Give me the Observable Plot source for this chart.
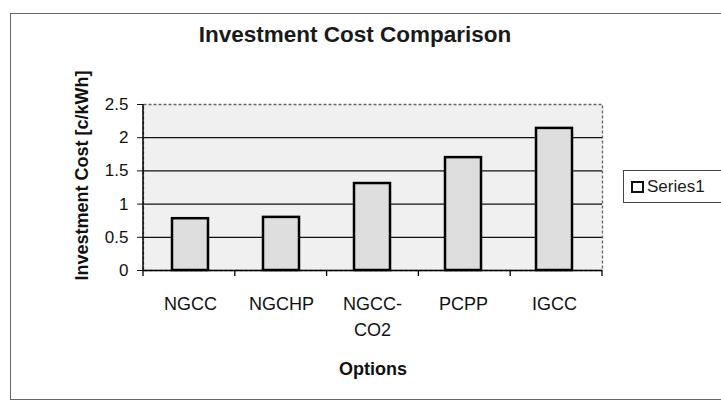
<!DOCTYPE html>
<html><head><meta charset="utf-8">
<script src="https://cdn.jsdelivr.net/npm/d3@7"></script>
<script src="https://cdn.jsdelivr.net/npm/@observablehq/plot@0.6"></script>
<style>
body{margin:0;background:#fff;font-family:"Liberation Sans",Arial,sans-serif;}
#wrap{position:relative;width:721px;height:402px;overflow:hidden;}
#chart{position:absolute;left:0;top:0;}
#border{position:absolute;left:10px;top:13px;width:800px;height:387px;border:1.5px solid #666;box-sizing:border-box;pointer-events:none;}
#title{position:absolute;left:0;top:24px;width:710px;text-align:center;font-size:22.5px;font-weight:bold;line-height:22px;color:#1a1a1a;}
#legend{position:absolute;left:623px;top:170px;width:200px;height:33px;border:1.5px solid #444;box-sizing:border-box;background:#fff;}
#legend .sw{position:absolute;left:7px;top:10px;width:13px;height:12px;border:2px solid #111;box-sizing:border-box;background:#fff;}
#legend .lt{position:absolute;left:23px;top:7px;font-size:17px;line-height:17px;color:#1a1a1a;}
</style>
</head><body>
<div id="wrap">
  <div id="chart"></div>
  <div id="border"></div>
  <div id="title"></div>
  <div id="legend"><div class="sw"></div><div class="lt"></div></div>
</div>
<script>
const title = "Investment Cost Comparison";
const categories = ["NGCC", "NGCHP", "NGCC-\nCO2", "PCPP", "IGCC"];
const values = [0.78, 0.80, 1.31, 1.70, 2.14];
const yTicks = [0, 0.5, 1, 1.5, 2, 2.5];
const yLabel = "Investment Cost [c/kWh]";
const xLabel = "Options";
const seriesName = "Series1";

const data = categories.map((c, i) => ({cat: c, val: values[i]}));

document.getElementById("title").textContent = title;
document.querySelector("#legend .lt").textContent = seriesName;

const plot = Plot.plot({
  width: 721, height: 402,
  marginLeft: 143, marginRight: 119, marginTop: 104, marginBottom: 132,
  x: {domain: categories, paddingInner: 0.6, paddingOuter: 0.3},
  y: {domain: [0, 2.5]},
  style: {fontFamily: "'Liberation Sans', Arial, sans-serif", background: "transparent", color: "#111"},
  marks: [
    Plot.frame({fill: "#f0f0f0", stroke: "none"}),
    Plot.ruleY(yTicks.filter(v => v > 0 && v < 2.5), {stroke: "#111", strokeWidth: 1.3}),
    Plot.frame({stroke: "#666", strokeDasharray: "3,2", strokeWidth: 1.3}),
    Plot.barY(data, {x: "cat", y: "val", fill: "#dedede", stroke: "#000", strokeWidth: 2.5}),
    Plot.ruleY([0], {stroke: "#000", strokeWidth: 1.5}),
    Plot.axisY({ticks: yTicks, tickSize: 6, tickPadding: 9, fontSize: 17, label: null, tickFormat: d => String(d)}),
    Plot.axisX({tickSize: 0, tickPadding: 22, fontSize: 18, lineHeight: 1.4, label: null}),
    Plot.text([yLabel], {text: d => d, frameAnchor: "left", textAnchor: "middle", lineAnchor: "middle", rotate: -90, dx: -61, dy: -12, fontSize: 18, fontWeight: "bold"}),
    Plot.text([xLabel], {text: d => d, frameAnchor: "bottom", textAnchor: "middle", lineAnchor: "middle", dy: 99, fontSize: 18, fontWeight: "bold"})
  ]
});
document.getElementById("chart").appendChild(plot);

// axis line and category boundary ticks from the plot's own scales
const xs = plot.scale("x"), ys = plot.scale("y");
const x0 = xs.range[0], x1 = xs.range[1];
const step = (x1 - x0) / categories.length;
const yZero = ys.apply(0), yTop = ys.apply(2.5);
const svg = d3.select(plot);
svg.append("line").attr("x1", x0).attr("x2", x0).attr("y1", yTop).attr("y2", yZero)
  .attr("stroke", "#000").attr("stroke-width", 1.5);
for (let i = 0; i <= categories.length; i++) {
  const x = x0 + i * step;
  svg.append("line").attr("x1", x).attr("x2", x).attr("y1", yZero).attr("y2", yZero + 6)
    .attr("stroke", "#000").attr("stroke-width", 1.3);
}
</script>
</body></html>
